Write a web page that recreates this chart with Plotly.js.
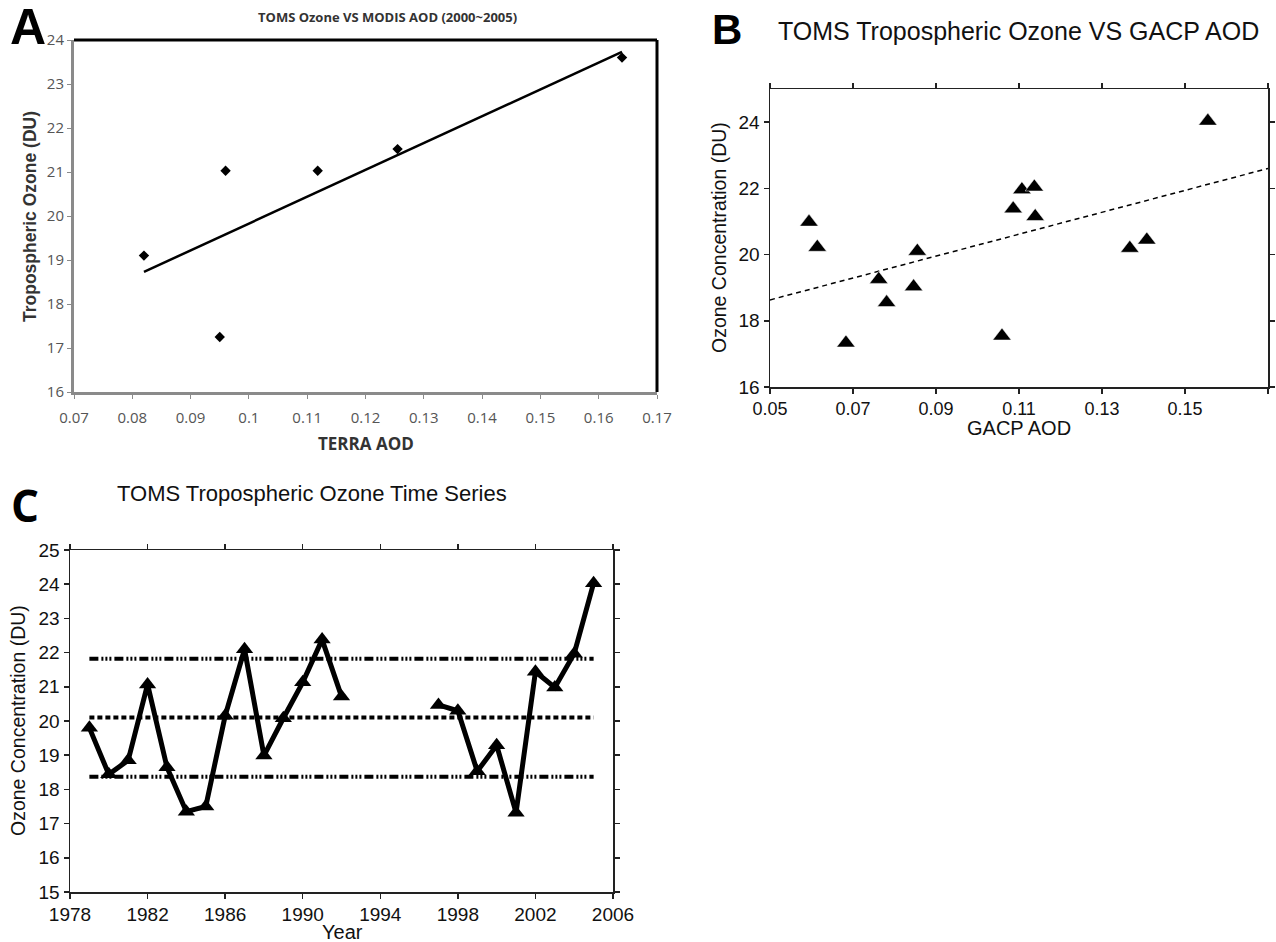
<!DOCTYPE html>
<html>
<head>
<meta charset="utf-8">
<script src="https://cdn.plot.ly/plotly-3.0.1.min.js"></script>
<style>html,body{margin:0;padding:0;background:#fff;}#chart{width:1276px;height:942px;}</style>
</head>
<body>
<div id="chart"></div>
<script>
// ---- Panel A: TOMS Ozone vs MODIS (Terra) AOD ----
const aodTerra = [0.082, 0.095, 0.096, 0.1118, 0.1255, 0.164];
const ozoneA = [19.1, 17.25, 21.03, 21.03, 21.52, 23.6];
const trendA_x = [0.082, 0.164];
const trendA_y = [18.73, 23.73];

// ---- Panel B: TOMS Ozone vs GACP AOD ----
const aodGacp = [0.0594, 0.0614, 0.0683, 0.0762, 0.0781, 0.0846, 0.0855, 0.1059, 0.1086, 0.1107, 0.1137, 0.1139, 0.1367, 0.1408, 0.1555];
const ozoneB = [20.98, 20.22, 17.33, 19.25, 18.55, 19.03, 20.1, 17.54, 21.38, 21.96, 22.04, 21.15, 20.19, 20.44, 24.03];
const trendB_x = [0.05, 0.17];
const trendB_y = [18.63, 22.6];

// ---- Panel C: Time series ----
const years = [1979,1980,1981,1982,1983,1984,1985,1986,1987,1988,1989,1990,1991,1992,1993,1994,1995,1996,1997,1998,1999,2000,2001,2002,2003,2004,2005];
const ozoneC = [19.8,18.44,18.85,21.07,18.65,17.35,17.5,20.15,22.1,18.99,20.08,21.13,22.38,20.72,null,null,null,null,20.47,20.3,18.53,19.29,17.32,21.44,20.98,21.97,24.03];
const refYears = [1979, 2005];
const meanLevel = 20.1;
const upperLevel = 21.82;
const lowerLevel = 18.37;

const W = 1276, H = 942;
const px = x => x / W;
const py = y => 1 - y / H;

const calibri = "Open Sans, sans-serif";
const helv = "Liberation Sans, Arial, sans-serif";

const traces = [
  {x: trendA_x, y: trendA_y, xaxis: 'x', yaxis: 'y', mode: 'lines', line: {color: '#000', width: 2.5}},
  {x: aodTerra, y: ozoneA, xaxis: 'x', yaxis: 'y', mode: 'markers', marker: {symbol: 'diamond', size: 8, color: '#000'}},
  {x: trendB_x, y: trendB_y, xaxis: 'x2', yaxis: 'y2', mode: 'lines', line: {color: '#000', width: 1.5, dash: '5px,4px'}},
  {x: aodGacp, y: ozoneB, xaxis: 'x2', yaxis: 'y2', mode: 'markers', marker: {symbol: 'triangle-up', size: 16, color: '#000', line: {color: '#fff', width: 0.5}}},
  {x: refYears, y: [upperLevel, upperLevel], xaxis: 'x3', yaxis: 'y3', mode: 'lines', line: {color: '#000', width: 4, dash: '9px,3px,2px,2px,2px,2px,2px,3px'}},
  {x: refYears, y: [meanLevel, meanLevel], xaxis: 'x3', yaxis: 'y3', mode: 'lines', line: {color: '#000', width: 4, dash: '5px,3px'}},
  {x: refYears, y: [lowerLevel, lowerLevel], xaxis: 'x3', yaxis: 'y3', mode: 'lines', line: {color: '#000', width: 4, dash: '9px,3px,2px,2px,2px,2px,2px,3px'}},
  {x: years, y: ozoneC, xaxis: 'x3', yaxis: 'y3', mode: 'lines+markers', connectgaps: false, line: {color: '#000', width: 5}, marker: {symbol: 'triangle-up', size: 15, color: '#000'}}
];

const axA = {
  showgrid: false, zeroline: false, showline: true, linecolor: '#8a8a8a', linewidth: 3,
  ticks: 'outside', ticklen: 4, tickcolor: '#8a8a8a', tickwidth: 1,
  tickfont: {family: calibri, size: 15, color: '#555'}
};
const axB = {
  showgrid: false, zeroline: false, showline: true, linecolor: '#222', linewidth: 1.5, mirror: 'ticks',
  ticks: 'outside', ticklen: 5, tickcolor: '#222', tickwidth: 1.5,
  tickfont: {family: helv, size: 18, color: '#111'}
};

function ann(text, x, y, size, family, extra) {
  return Object.assign({text: text, x: px(x), y: py(y), xref: 'paper', yref: 'paper', xanchor: 'center', yanchor: 'middle',
    showarrow: false, font: {family: family, size: size, color: '#111'}}, extra || {});
}

const layout = {
  width: W, height: H, margin: {l: 0, r: 0, t: 0, b: 0},
  paper_bgcolor: '#fff', plot_bgcolor: '#fff', showlegend: false,
  xaxis: Object.assign({}, axA, {domain: [px(74), px(657)], range: [0.07, 0.17], dtick: 0.01, tick0: 0.07, anchor: 'y', ticklabelstandoff: 6}),
  yaxis: Object.assign({}, axA, {domain: [py(392), py(40)], range: [16, 24], dtick: 1, anchor: 'x'}),
  xaxis2: Object.assign({}, axB, {domain: [px(770), px(1268)], range: [0.05, 0.17], dtick: 0.02, tick0: 0.05, anchor: 'y2', tickformat: '.2f'}),
  yaxis2: Object.assign({}, axB, {domain: [py(387), py(89)], range: [16, 25], dtick: 2, tick0: 16, anchor: 'x2', tickfont: {family: helv, size: 19, color: '#111'}}),
  xaxis3: Object.assign({}, axB, {domain: [px(70), px(613)], range: [1978, 2006], dtick: 4, tick0: 1978, anchor: 'y3', tickfont: {family: helv, size: 19, color: '#111'}}),
  yaxis3: Object.assign({}, axB, {domain: [py(892), py(550)], range: [15, 25], dtick: 1, anchor: 'x3', tickfont: {family: helv, size: 19, color: '#111'}}),
  shapes: [
    {type: 'line', xref: 'x domain', yref: 'y domain', x0: 0, x1: 1, y0: 1, y1: 1, line: {color: '#000', width: 3}},
    {type: 'line', xref: 'x domain', yref: 'y domain', x0: 1, x1: 1, y0: 0, y1: 1, line: {color: '#000', width: 3}}
  ],
  annotations: [
    ann('<b>A</b>', 28, 27, 50, helv, {font: {family: helv, size: 50, color: '#000'}}),
    ann('<b>TOMS Ozone VS MODIS AOD (2000~2005)</b>', 387, 17, 13, calibri, {font: {family: calibri, size: 13, color: '#333'}}),
    ann('<b>TERRA AOD</b>', 366, 443, 17, calibri, {font: {family: calibri, size: 17, color: '#333'}}),
    ann('<b>Tropospheric Ozone (DU)</b>', 30, 217, 17.5, helv, {textangle: -90, font: {family: helv, size: 17.5, color: '#333'}}),

    ann('<b>B</b>', 727, 30, 42, helv, {font: {family: helv, size: 42, color: '#000'}}),
    ann('TOMS Tropospheric Ozone VS GACP AOD', 1018, 31, 25, helv),
    ann('GACP AOD', 1019, 428, 20, helv),
    ann('Ozone Concentration (DU)', 719, 238, 19.5, helv, {textangle: -90}),

    ann('<b>C</b>', 25, 505, 44, calibri, {font: {family: calibri, size: 44, color: '#000'}}),
    ann('TOMS Tropospheric Ozone Time Series', 312, 493, 22, helv),
    ann('Year', 342, 932, 20, helv),
    ann('Ozone Concentration (DU)', 18, 721, 19.5, helv, {textangle: -90})
  ]
};

Plotly.newPlot('chart', traces, layout, {staticPlot: true, displayModeBar: false});
</script>
</body>
</html>
